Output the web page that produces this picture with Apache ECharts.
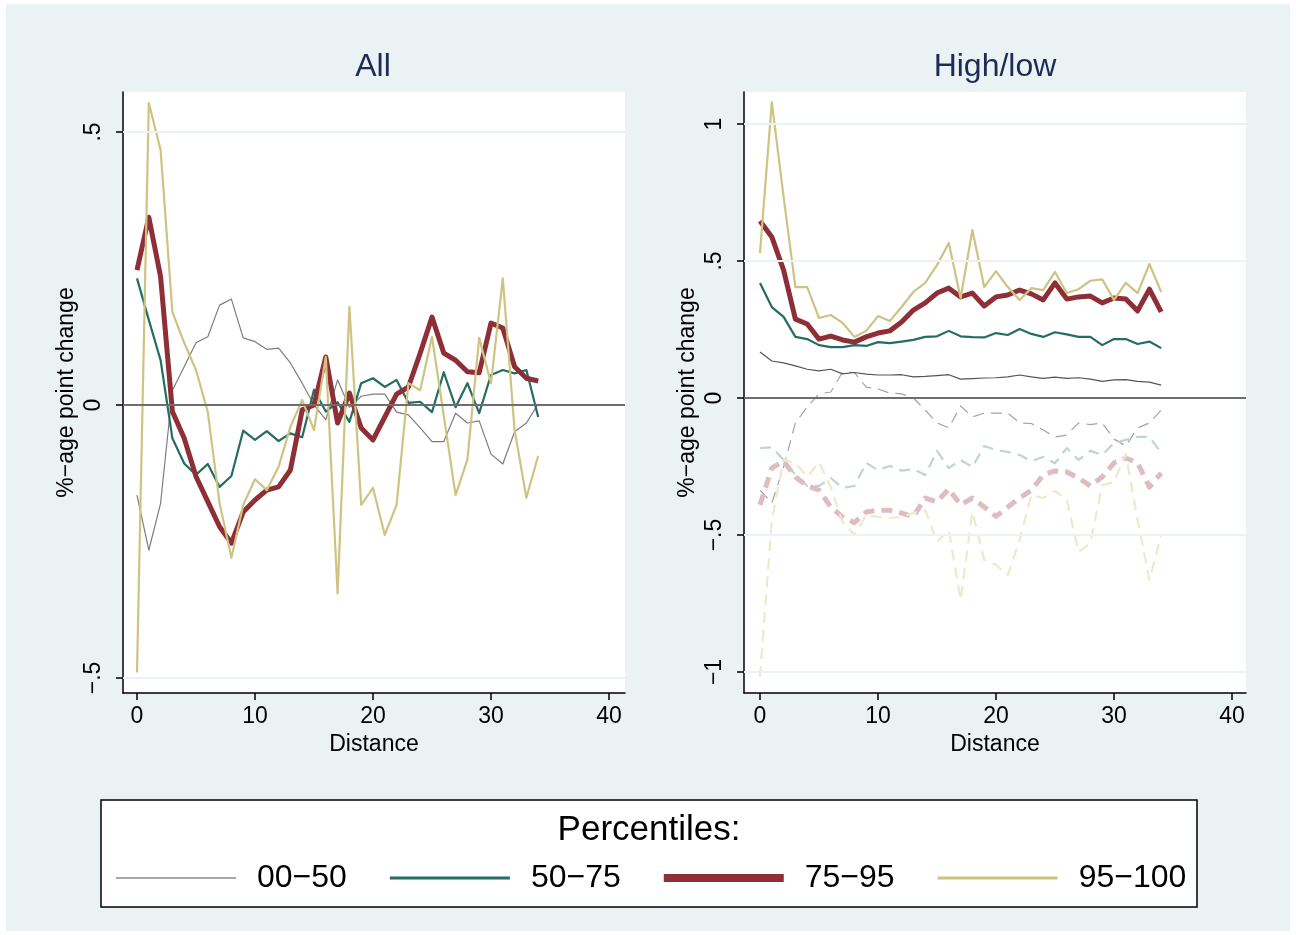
<!DOCTYPE html>
<html>
<head>
<meta charset="utf-8">
<script src="https://cdn.jsdelivr.net/npm/echarts@6/dist/echarts.min.js"></script>
<style>
html,body{margin:0;padding:0;background:#fff;}
#chart{width:1296px;height:935px;}
</style>
</head>
<body>
<div id="chart"></div>
<script>
// ---------- data ----------
const distance = [0,1,2,3,4,5,6,7,8,9,10,11,12,13,14,15,16,17,18,19,20,21,22,23,24,25,26,27,28,29,30,31,32,33,34];
const seriesNames = ['00\u221250','50\u221275','75\u221295','95\u2212100'];

// Panel "All"
const all_00_50  = [-0.165,-0.266,-0.18,0.027,0.07,0.114,0.125,0.183,0.194,0.123,0.116,0.102,0.104,0.077,0.04,0.0,-0.027,0.046,-0.004,0.016,0.02,0.02,-0.013,-0.018,-0.042,-0.067,-0.067,-0.015,-0.033,-0.029,-0.09,-0.108,-0.049,-0.033,0.002];
const all_50_75  = [0.232,0.156,0.082,-0.061,-0.107,-0.128,-0.108,-0.15,-0.13,-0.047,-0.064,-0.048,-0.066,-0.052,-0.059,0.028,-0.012,0.005,-0.031,0.04,0.049,0.033,0.046,0.004,0.006,-0.013,0.06,-0.004,0.04,-0.015,0.055,0.064,0.058,0.064,-0.022];
const all_75_95  = [0.247,0.344,0.235,-0.012,-0.061,-0.131,-0.177,-0.223,-0.253,-0.196,-0.174,-0.156,-0.15,-0.119,-0.009,0.0,0.088,-0.033,0.022,-0.042,-0.064,-0.022,0.02,0.033,0.095,0.161,0.095,0.082,0.061,0.059,0.15,0.141,0.07,0.049,0.044];
const all_95_100 = [-0.49,0.553,0.467,0.17,0.114,0.064,-0.013,-0.18,-0.28,-0.183,-0.136,-0.156,-0.113,-0.04,0.009,-0.046,0.088,-0.345,0.18,-0.183,-0.152,-0.238,-0.183,0.04,0.027,0.125,-0.02,-0.165,-0.1,0.123,0.04,0.232,-0.046,-0.17,-0.093];

// Panel "High/low" - high (solid)
const high_00_50  = [0.168,0.135,0.128,0.117,0.105,0.099,0.105,0.088,0.093,0.087,0.084,0.084,0.085,0.077,0.079,0.082,0.085,0.069,0.071,0.073,0.074,0.077,0.084,0.077,0.072,0.076,0.072,0.074,0.069,0.061,0.066,0.067,0.061,0.058,0.047];
const high_50_75  = [0.42,0.332,0.296,0.223,0.215,0.193,0.186,0.186,0.193,0.19,0.204,0.2,0.206,0.212,0.223,0.225,0.245,0.225,0.222,0.221,0.237,0.23,0.252,0.234,0.223,0.24,0.232,0.223,0.223,0.193,0.215,0.215,0.197,0.206,0.182];
const high_75_95  = [0.646,0.588,0.467,0.288,0.27,0.215,0.226,0.212,0.204,0.223,0.237,0.245,0.277,0.321,0.347,0.383,0.401,0.369,0.383,0.336,0.369,0.376,0.394,0.38,0.358,0.42,0.361,0.369,0.372,0.347,0.365,0.361,0.318,0.397,0.314];
const high_95_100 = [0.529,1.08,0.734,0.405,0.405,0.292,0.303,0.274,0.223,0.245,0.299,0.281,0.332,0.387,0.42,0.485,0.566,0.365,0.613,0.405,0.463,0.405,0.358,0.401,0.394,0.46,0.383,0.397,0.428,0.433,0.358,0.42,0.383,0.489,0.387];

// Panel "High/low" - low (dashed)
const low_00_50  = [-0.336,-0.383,-0.252,-0.091,-0.033,0.015,0.022,0.095,0.093,0.04,0.033,0.018,0.015,0.0,-0.044,-0.091,-0.109,-0.029,-0.069,-0.055,-0.055,-0.055,-0.091,-0.093,-0.117,-0.142,-0.135,-0.091,-0.097,-0.091,-0.15,-0.175,-0.109,-0.091,-0.044];
const low_50_75  = [-0.183,-0.18,-0.226,-0.281,-0.321,-0.321,-0.292,-0.328,-0.321,-0.237,-0.263,-0.248,-0.265,-0.26,-0.281,-0.193,-0.256,-0.226,-0.252,-0.175,-0.19,-0.197,-0.208,-0.23,-0.215,-0.238,-0.183,-0.226,-0.193,-0.208,-0.164,-0.153,-0.142,-0.142,-0.2];
const low_75_95  = [-0.39,-0.256,-0.23,-0.288,-0.321,-0.336,-0.398,-0.434,-0.455,-0.416,-0.409,-0.41,-0.42,-0.433,-0.365,-0.379,-0.332,-0.39,-0.365,-0.398,-0.432,-0.398,-0.365,-0.336,-0.281,-0.266,-0.27,-0.292,-0.321,-0.288,-0.237,-0.219,-0.237,-0.325,-0.274];
const low_95_100 = [-1.018,-0.445,-0.226,-0.237,-0.288,-0.234,-0.325,-0.453,-0.5,-0.427,-0.434,-0.438,-0.434,-0.42,-0.409,-0.525,-0.482,-0.737,-0.416,-0.591,-0.609,-0.646,-0.518,-0.354,-0.365,-0.339,-0.372,-0.562,-0.529,-0.318,-0.307,-0.204,-0.445,-0.664,-0.5];

// tick labels
const xTicks = [0,10,20,30,40];
const yTicksAll = [-0.5,0,0.5];
const yTickLabelsAll = ['\u2212.5','0','.5'];
const yTicksHL = [-1,-0.5,0,0.5,1];
const yTickLabelsHL = ['\u22121','\u2212.5','0','.5','1'];

// ---------- styles ----------
const C_GRAY = '#7d7d7d', C_GRAY_D = '#555555', C_TEAL = '#266d61', C_RED = '#8e2f37', C_TAN = '#cfc384';
const C_GRAY_L = '#a3a3a3', C_TEAL_L = '#bcd6d1', C_RED_L = '#dfbcbf', C_TAN_L = '#efe9cc';
const BG = '#eaf2f3';
const FONT = '"Liberation Sans", Arial, sans-serif';

function pts(arr){ return distance.map((d,i)=>[d, arr[i]]); }
function lab(ticks, labels){ return v => { const i = ticks.findIndex(t=>Math.abs(t-v)<1e-9); return i>=0 ? labels[i] : ''; }; }
function barIcon(h){ return 'path://M0,0L120,0L120,' + h + 'L0,' + h + 'Z'; }

function xAxis(gi, min, max){
  return {
    type:'value', gridIndex:gi, min:min, max:max,
    name:'Distance', nameLocation:'middle', nameGap:38,
    nameTextStyle:{fontFamily:FONT, fontSize:23, color:'#000'},
    axisLine:{show:true, onZero:false, lineStyle:{color:'#000', width:1.5}},
    axisTick:{show:true, length:7, lineStyle:{color:'#000', width:1.5}, customValues:xTicks},
    axisLabel:{fontFamily:FONT, fontSize:23, color:'#000', margin:12, customValues:xTicks, formatter: v=>String(v)},
    splitLine:{show:false}
  };
}
function yAxis(gi, min, max, ticks, labels){
  return {
    type:'value', gridIndex:gi, min:min, max:max,
    name:'%\u2212age point change', nameLocation:'middle', nameGap:45, nameRotate:90,
    nameTextStyle:{fontFamily:FONT, fontSize:23, color:'#000'},
    axisLine:{show:true, onZero:false, lineStyle:{color:'#000', width:1.5}},
    axisTick:{show:true, length:7, lineStyle:{color:'#000', width:1.5}, customValues:ticks},
    axisLabel:{fontFamily:FONT, fontSize:23, color:'#000', rotate:90, margin:18, customValues:ticks, formatter: lab(ticks, labels)},
    splitLine:{show:false}
  };
}
function refLines(gi, ticks){
  const d = ticks.filter(t=>t!==0).map(t=>({yAxis:t, lineStyle:{color:BG, width:2, type:'solid'}}));
  d.push({yAxis:0, lineStyle:{color:'#6e6e6e', width:2.2, type:'solid'}});
  return {
    type:'line', xAxisIndex:gi, yAxisIndex:gi, data:[], z:1, silent:true,
    markLine:{silent:true, symbol:'none', label:{show:false}, animation:false, data:d}
  };
}
function line(gi, name, arr, color, width, dashed){
  return {
    type:'line', name:name, xAxisIndex:gi, yAxisIndex:gi, data:pts(arr),
    showSymbol:false, symbol:'none', z:2, animation:false,
    lineStyle:{color:color, width:width, type: dashed ? [11,7] : 'solid', join:'round', cap:'butt'},
    itemStyle:{color:color}
  };
}

const option = {
  backgroundColor:'#ffffff',
  animation:false,
  grid:[
    {left:123, top:92, width:502, height:601, show:true, backgroundColor:'#fff', borderWidth:0, containLabel:false},
    {left:744, top:92, width:502, height:601, show:true, backgroundColor:'#fff', borderWidth:0, containLabel:false}
  ],
  xAxis:[ xAxis(0, -14/11.8, -14/11.8 + 502/11.8), xAxis(1, -16/11.8, -16/11.8 + 502/11.8) ],
  yAxis:[ yAxis(0, -0.5275, 0.5733, yTicksAll, yTickLabelsAll), yAxis(1, -1.0766, 1.1168, yTicksHL, yTickLabelsHL) ],
  legend:{
    left:116, top:862, padding:0, orient:'horizontal', itemWidth:120, itemHeight:16, itemGap:43,
    selectedMode:false, symbolKeepAspect:true,
    textStyle:{fontFamily:FONT, fontSize:32, color:'#000', padding:[0,0,0,16]},
    data:[
      {name:seriesNames[0], icon:barIcon(1.5), itemStyle:{color:'#8a8a8a'}},
      {name:seriesNames[1], icon:barIcon(3), itemStyle:{color:C_TEAL}},
      {name:seriesNames[2], icon:barIcon(8), itemStyle:{color:C_RED}},
      {name:seriesNames[3], icon:barIcon(3), itemStyle:{color:C_TAN}}
    ]
  },
  graphic:[
    {type:'rect', z:-10, silent:true, shape:{x:6, y:4, width:1284, height:927}, style:{fill:BG}},
    {type:'text', x:373, y:67, style:{text:'All', font:'32px '+FONT, fill:'#1d2b55', align:'center', verticalAlign:'middle'}},
    {type:'text', x:995, y:67, style:{text:'High/low', font:'32px '+FONT, fill:'#1d2b55', align:'center', verticalAlign:'middle'}},
    {type:'rect', z:-5, silent:true, shape:{x:101, y:800, width:1096, height:107}, style:{fill:'#fff', stroke:'#000', lineWidth:1.5}},
    {type:'text', x:649, y:830, style:{text:'Percentiles:', font:'35px '+FONT, fill:'#000', align:'center', verticalAlign:'middle'}}
  ],
  series:[
    refLines(0, yTicksAll),
    refLines(1, yTicksHL),
    line(0, seriesNames[0], all_00_50, C_GRAY, 1.2, false),
    line(0, seriesNames[1], all_50_75, C_TEAL, 2.2, false),
    line(0, seriesNames[2], all_75_95, C_RED, 5, false),
    line(0, seriesNames[3], all_95_100, C_TAN, 2.2, false),
    line(1, seriesNames[0]+' low', low_00_50, C_GRAY_L, 1.2, true),
    line(1, seriesNames[1]+' low', low_50_75, C_TEAL_L, 2.2, true),
    line(1, seriesNames[2]+' low', low_75_95, C_RED_L, 5, true),
    line(1, seriesNames[3]+' low', low_95_100, C_TAN_L, 2.2, true),
    line(1, seriesNames[0]+' high', high_00_50, C_GRAY_D, 1.2, false),
    line(1, seriesNames[1]+' high', high_50_75, C_TEAL, 2.2, false),
    line(1, seriesNames[2]+' high', high_75_95, C_RED, 5, false),
    line(1, seriesNames[3]+' high', high_95_100, C_TAN, 2.2, false)
  ]
};
const chart = echarts.init(document.getElementById('chart'), null, {renderer:'canvas'});
chart.setOption(option);
</script>
</body>
</html>
